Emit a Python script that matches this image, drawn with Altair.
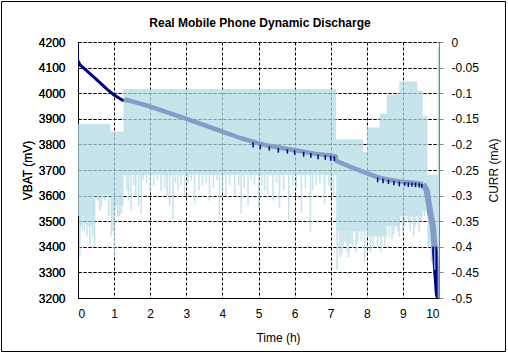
import altair as alt
import pandas as pd

# ---------------- data ----------------
chart_title = "Real Mobile Phone Dynamic Discharge"

# VBAT (mV) vs time (h)
vbat_time = [0.0, 0.01, 0.05, 0.2, 0.4, 0.6, 0.8, 1.0, 1.2, 1.29, 1.35, 1.6, 2.0, 2.5,
             3.0, 3.5, 4.0, 4.5, 4.84, 5.2, 5.68, 6.1, 6.6, 7.0, 7.14, 7.16, 7.53,
             7.99, 8.26, 8.6, 9.0, 9.3, 9.56, 9.66, 9.74, 9.83, 9.88, 9.92, 9.97, 10.0]
vbat_mv = [4185, 4125, 4112, 4093, 4068, 4042, 4016, 3993, 3975, 3970, 3974, 3964, 3948, 3924,
           3900, 3875, 3850, 3825, 3811, 3797, 3785, 3775, 3763, 3757, 3753, 3735, 3713,
           3688, 3674, 3662, 3653, 3650, 3645, 3620, 3550, 3480, 3395, 3310, 3215, 3200]

# VBAT sawtooth teeth that show dark below the band (time, top mV, bottom mV)
tooth_time = [4.85, 5.05, 5.3, 5.55, 5.8, 6.0, 6.25, 6.45, 6.65, 6.85, 7.0, 7.1,
              8.3, 8.45, 8.6, 8.75, 8.9, 9.05, 9.15, 9.25, 9.35, 9.45, 9.52]
tooth_top = [3808, 3799, 3792, 3786, 3781, 3777, 3771, 3766, 3761, 3758, 3756, 3753,
             3671, 3666, 3662, 3658, 3655, 3653, 3652, 3651, 3650, 3648, 3646]
tooth_bottom = [3788, 3782, 3776, 3768, 3764, 3760, 3752, 3748, 3742, 3740, 3736, 3735,
                3652, 3648, 3645, 3640, 3636, 3638, 3634, 3636, 3633, 3632, 3630]

# CURR (mA): dense band (top / bottom envelope), step segments starting at these times
curr_seg_time = [0.0, 0.45, 0.9, 1.05, 1.26, 7.15, 7.9, 8.0, 8.35, 8.55, 8.9, 9.4, 9.55, 9.68, 9.96, 10.0]
curr_seg_top = [-0.16, -0.16, -0.175, -0.175, -0.092, -0.19, -0.215, -0.167, -0.14, -0.103,
                -0.077, -0.095, -0.145, -0.26, -0.01, -0.01]
curr_seg_bottom = [-0.34, -0.30, -0.33, -0.32, -0.26, -0.37, -0.37, -0.38, -0.38, -0.36,
                   -0.34, -0.34, -0.33, -0.40, -0.5, -0.5]

# CURR (mA): downward spikes below the dense band
spike_time = [0.05, 0.08, 0.12, 0.18, 0.22, 0.25, 0.29, 0.33, 0.38, 0.41, 0.46, 0.55, 0.6, 0.65,
              0.7, 0.75, 0.85, 0.92, 0.97, 1.01, 1.1, 1.15, 1.2,
              1.35, 1.4, 1.47, 1.55, 1.6, 1.68, 1.75, 1.8, 1.9, 2.0, 2.1, 2.2, 2.3, 2.4, 2.47,
              2.54, 2.63, 2.7, 2.77, 2.85, 2.95, 3.05, 3.14, 3.23, 3.35, 3.45, 3.55, 3.64, 3.75,
              3.85, 3.92, 4.0, 4.1, 4.2, 4.34, 4.45, 4.52, 4.6, 4.71, 4.8, 4.89, 5.01, 5.1,
              5.17, 5.25, 5.4, 5.5, 5.58, 5.7, 5.84, 5.95, 6.05, 6.19, 6.3, 6.44, 6.5, 6.6,
              6.7, 6.83, 6.95, 7.0, 7.08,
              7.18, 7.25, 7.3, 7.35, 7.4, 7.45, 7.5, 7.55, 7.6, 7.7, 7.75, 7.85, 7.94,
              8.1, 8.17, 8.3, 8.4, 8.5, 8.62, 8.7, 8.75, 8.85, 8.9, 9.0, 9.05, 9.15, 9.2,
              9.3, 9.35, 9.45, 9.5, 9.6, 9.79, 9.88]
spike_curr = [-0.42, -0.36, -0.37, -0.37, -0.355, -0.38, -0.36, -0.40, -0.36, -0.38, -0.40,
              -0.31, -0.33, -0.32, -0.305, -0.31, -0.34, -0.38, -0.37, -0.42, -0.34, -0.34, -0.335,
              -0.29, -0.31, -0.33, -0.28, -0.30, -0.32, -0.335, -0.27, -0.275, -0.29, -0.28,
              -0.27, -0.29, -0.285, -0.30, -0.32, -0.345, -0.275, -0.29, -0.28, -0.30, -0.275,
              -0.27, -0.315, -0.29, -0.28, -0.275, -0.31, -0.285, -0.27, -0.345, -0.29, -0.30,
              -0.28, -0.30, -0.28, -0.335, -0.285, -0.32, -0.27, -0.28, -0.325, -0.28, -0.29,
              -0.30, -0.31, -0.275, -0.325, -0.29, -0.347, -0.28, -0.286, -0.334, -0.285, -0.37,
              -0.29, -0.28, -0.275, -0.315, -0.28, -0.29, -0.30,
              -0.445, -0.42, -0.415, -0.40, -0.39, -0.41, -0.42, -0.395, -0.40, -0.41, -0.39,
              -0.39, -0.43,
              -0.41, -0.40, -0.40, -0.41, -0.40, -0.38, -0.385, -0.375, -0.37, -0.38, -0.375,
              -0.36, -0.35, -0.37, -0.38, -0.36, -0.37, -0.35, -0.34, -0.43, -0.445]

x_ticks = [0, 1, 2, 3, 4, 5, 6, 7, 8, 9, 10]
vbat_ticks = [3200, 3300, 3400, 3500, 3600, 3700, 3800, 3900, 4000, 4100, 4200]
curr_ticks = [0, -0.05, -0.1, -0.15, -0.2, -0.25, -0.3, -0.35, -0.4, -0.45, -0.5]

# ---------------- tables ----------------
def seg_of(t):
    if t < 0.01:
        return "head"
    if t <= 1.29:
        return "early"
    if t <= 9.56:
        return "main"
    return "tail"

rows = []
for t, v in zip(vbat_time, vbat_mv):
    rows.append({"t": t, "v": v, "seg": seg_of(t)})
    # duplicate boundary points so that the segments connect
    if t == 0.01:
        rows.append({"t": t, "v": v, "seg": "head"})
    if t == 1.29:
        rows.append({"t": t, "v": v, "seg": "main"})
    if t == 9.56:
        rows.append({"t": t, "v": v, "seg": "tail"})
vbat_df = pd.DataFrame(rows)
teeth_df = pd.DataFrame({"t": tooth_time, "v": tooth_top, "v2": tooth_bottom})

band_df = pd.DataFrame({"t": curr_seg_time, "top": curr_seg_top, "bot": curr_seg_bottom})
spk = pd.DataFrame({"t": spike_time, "v": spike_curr}).sort_values("t")
spk = pd.merge_asof(spk, band_df[["t", "bot"]].sort_values("t"), on="t", direction="backward")

FONT = "Liberation Sans"
NAVY = "#000080"
LBLUE = "#B3DAE4"
ALPHA = 0.725

x_enc = alt.X(
    "t:Q",
    scale=alt.Scale(domain=[0, 10], nice=False, zero=False),
    axis=alt.Axis(
        values=x_ticks, format="d", ticks=False, tickSize=0, labelPadding=10,
        labelFont=FONT, labelFontSize=12, labelColor="black",
        domainColor="black", domainWidth=1,
        grid=True, gridColor="black", gridDash=[3, 2], gridWidth=1,
        gridOpacity=alt.condition("datum.value >= 10", alt.value(0), alt.value(1)),
        title="Time (h)", titleFont=FONT, titleFontSize=12, titleFontWeight="normal",
        titleColor="black", titleX=200, titleY=43, titleBaseline="alphabetic",
        titleAlign="center",
    ),
)

vbat_axis = alt.Axis(
    values=vbat_ticks, format="d", ticks=False, tickSize=0, labelPadding=13,
    labelFont=FONT, labelFontSize=12, labelColor="black",
    domainColor="black", domainWidth=1,
    grid=True, gridColor="black", gridDash=[3, 2], gridWidth=1,
    title="VBAT (mV)", titleFont=FONT, titleFontSize=12, titleFontWeight="normal",
    titleColor="black", titleAngle=270, titleX=-51, titleY=128,
    titleAlign="center", titleBaseline="middle",
)
vbat_scale = alt.Scale(domain=[3200, 4200], nice=False, zero=False)

vbat_line = alt.Chart(vbat_df).mark_line(color=NAVY, strokeJoin="round", clip=True).encode(
    x=x_enc,
    y=alt.Y("v:Q", scale=vbat_scale, axis=vbat_axis),
    size=alt.Size("seg:N", scale=alt.Scale(domain=["head", "early", "main", "tail"],
                                           range=[1.5, 6, 4, 1.5]), legend=None),
    order="t:Q",
)

vbat_teeth = alt.Chart(teeth_df).mark_rule(color=NAVY, strokeWidth=1.5, clip=True).encode(
    x=x_enc,
    y=alt.Y("v:Q", scale=vbat_scale, axis=vbat_axis),
    y2="v2:Q",
)

curr_axis = alt.Axis(
    orient="right", values=curr_ticks,
    labelExpr="datum.value == 0 ? '0' : '-' + format(abs(datum.value), '~g')",
    tickColor="#808080", tickSize=4, labelPadding=8,
    labelFont=FONT, labelFontSize=12, labelColor="black",
    domainColor="#808080", domainWidth=1, grid=False,
    title="CURR (mA)", titleFont=FONT, titleFontSize=12, titleFontWeight="normal",
    titleColor="black", titleAngle=270, titleX=54, titleY=128,
    titleAlign="center", titleBaseline="middle",
)
curr_scale = alt.Scale(domain=[-0.5, 0], nice=False, zero=False)

band = alt.Chart(band_df).mark_area(
    interpolate="step-after", color=LBLUE, opacity=ALPHA, clip=True
).encode(
    x=x_enc,
    y=alt.Y("top:Q", scale=curr_scale, axis=curr_axis),
    y2="bot:Q",
)

spikes = alt.Chart(spk).mark_rule(color=LBLUE, opacity=ALPHA, strokeWidth=1.6, clip=True).encode(
    x=x_enc,
    y=alt.Y("bot:Q", scale=curr_scale, axis=curr_axis),
    y2="v:Q",
)

deco = pd.DataFrame({"label": [chart_title]})
frame = alt.Chart(deco).mark_rect(
    filled=False, stroke="black", strokeWidth=1
).encode(
    x=alt.value(-76.5), x2=alt.value(427.5), y=alt.value(-40.5), y2=alt.value(309.5)
)
title_text = alt.Chart(deco).mark_text(
    font=FONT, fontSize=12, fontWeight="bold", color="black",
    align="center", baseline="alphabetic"
).encode(
    x=alt.value(182), y=alt.value(-15), text="label:N"
)

chart = alt.layer(
    vbat_line, alt.layer(band, spikes), alt.layer(vbat_teeth), frame, title_text
).resolve_scale(y="independent").properties(
    width=361, height=256,
    autosize=alt.AutoSizeParams(type="none"),
    padding={"left": 78, "top": 42, "right": 69, "bottom": 56},
).configure_view(stroke=None).configure(background="white")

chart.save("out.html", embed_options={"renderer": "svg", "actions": False})
